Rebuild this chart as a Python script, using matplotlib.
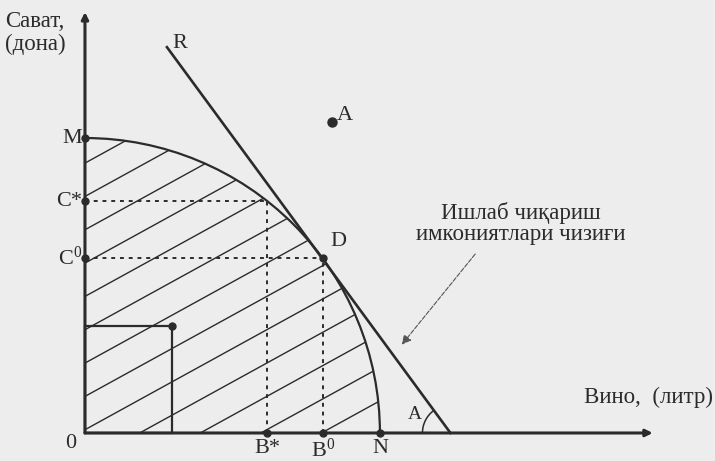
import numpy as np
import matplotlib
matplotlib.use('Agg')
import matplotlib.pyplot as plt
from matplotlib.patches import Arc, Wedge, Rectangle

plt.rcParams['font.family'] = 'Liberation Serif'
plt.rcParams['mathtext.fontset'] = 'custom'
plt.rcParams['mathtext.rm'] = 'Liberation Serif'
plt.rcParams['mathtext.it'] = 'Liberation Serif:italic'
plt.rcParams['mathtext.default'] = 'regular'

# production possibilities data (wine on x, bread on y)
max_wine = 10.0          # N
max_bread = 10.0         # M
point_d = (8.07, 5.93)   # D (tangent point, B0 / C0)
point_star = (6.17, 7.86)  # B* / C*
point_inner = (2.95, 3.63)  # inefficient combination
point_a = (8.37, 10.54)  # unattainable point A
r_start_x = 2.78         # where tangent line R begins
x_axis_end = 19.25
y_axis_end = 14.27

ink = '#2b2b2b'
bg = '#ededed'

fig = plt.figure(figsize=(7.15, 4.61), dpi=100)
fig.patch.set_facecolor(bg)
ax = fig.add_axes([0, 0, 1, 1])
ax.set_facecolor(bg)
ax.set_xlim(-2.88, 21.36)
ax.set_ylim(-0.95, 14.68)
ax.set_aspect('equal')
ax.axis('off')

# hatched feasible region
region = Wedge((0, 0), max_wine, 0, 90, facecolor='none', edgecolor='none')
ax.add_patch(region)
for c in np.arange(9.15 - 20 * 1.13, 11, 1.13):
    xs = np.array([-1, 12])
    ln, = ax.plot(xs, 0.55 * xs + c, color=ink, lw=1.0)
    ln.set_clip_path(region)

# frontier
ax.add_patch(Arc((0, 0), 2 * max_wine, 2 * max_bread, theta1=0, theta2=90,
                 color=ink, lw=1.6))

# inefficient rectangle
ax.add_patch(Rectangle((0, 0), point_inner[0], point_inner[1], fill=False,
                       edgecolor=ink, lw=1.6))

# tangent line R through D
dx, dy = point_d
x_int = max_wine ** 2 / dx
r_y = max_bread ** 2 * (1 - r_start_x * dx / max_wine ** 2) / dy
ax.plot([r_start_x, x_int], [r_y, 0], color=ink, lw=1.9)

# dotted guides
for px_, py_ in [point_star, point_d]:
    ax.plot([0, px_], [py_, py_], color=ink, lw=1.4, ls=(0, (2, 2.5)))
    ax.plot([px_, px_], [0, py_], color=ink, lw=1.4, ls=(0, (2, 2.5)))

# axes with arrows
ax.annotate('', xy=(0, y_axis_end), xytext=(0, 0),
            arrowprops=dict(arrowstyle='-|>', color=ink, lw=2.2,
                            mutation_scale=10, shrinkA=0, shrinkB=0))
ax.annotate('', xy=(x_axis_end, 0), xytext=(0, 0),
            arrowprops=dict(arrowstyle='-|>', color=ink, lw=2.2,
                            mutation_scale=10, shrinkA=0, shrinkB=0))

# angle arc at x-intercept
ang = np.degrees(np.arctan2(r_y, r_start_x - x_int))
ax.add_patch(Arc((x_int, 0), 1.9, 1.9, theta1=ang, theta2=180, color=ink, lw=1.1))

# markers
mx = [0, 0, 0, point_star[0], dx, max_wine, dx, point_inner[0]]
my = [max_bread, point_star[1], dy, 0, 0, 0, dy, point_inner[1]]
ax.plot(mx, my, 'o', color=ink, ms=5)
ax.plot(*point_a, 'o', color=ink, ms=6.5)

fs = 16.5
fl = 16
ax.text(-2.71, 14.3, 'Сават,\n(дона)', fontsize=fs, va='top', ha='left',
        color=ink, linespacing=1.1)
ax.text(2.98, 13.22, 'R', fontsize=fl, va='center', ha='left', color=ink)
ax.text(8.55, 10.78, 'A', fontsize=fl, va='center', ha='left', color=ink)
ax.text(-0.1, max_bread, 'M', fontsize=fl, va='center', ha='right', color=ink)
ax.text(-0.1, point_star[1], 'C*', fontsize=fl, va='center', ha='right', color=ink)
ax.text(-0.1, dy, r'C$^0$', fontsize=fl, va='center', ha='right', color=ink)
ax.text(-0.5, -0.34, '0', fontsize=fl, va='center', ha='center', color=ink)
ax.text(point_star[0], -0.2, 'B*', fontsize=fl, va='top', ha='center', color=ink)
ax.text(dx, -0.2, r'B$^0$', fontsize=fl, va='top', ha='center', color=ink)
ax.text(max_wine, -0.2, 'N', fontsize=fl, va='top', ha='center', color=ink)
ax.text(dx + 0.25, dy + 0.55, 'D', fontsize=fl, va='center', ha='left', color=ink)
ax.text(14.78, 7.1, 'Ишлаб чиқариш\nимкониятлари чизиғи', fontsize=fs,
        va='center', ha='center', color=ink, linespacing=1.05)
ax.annotate('', xy=(10.68, 2.92), xytext=(13.29, 6.14),
            arrowprops=dict(arrowstyle='-|>', color='#555555', lw=0.8,
                            ls=(0, (4, 1.5)), mutation_scale=14))
ax.text(21.28, 1.22, 'Вино,  (литр)', fontsize=fs, va='center', ha='right', color=ink)
ax.text(11.19, 0.61, 'A', fontsize=fl - 2, va='center', ha='center', color=ink)

fig.savefig('out.png', dpi=100, facecolor=bg)
